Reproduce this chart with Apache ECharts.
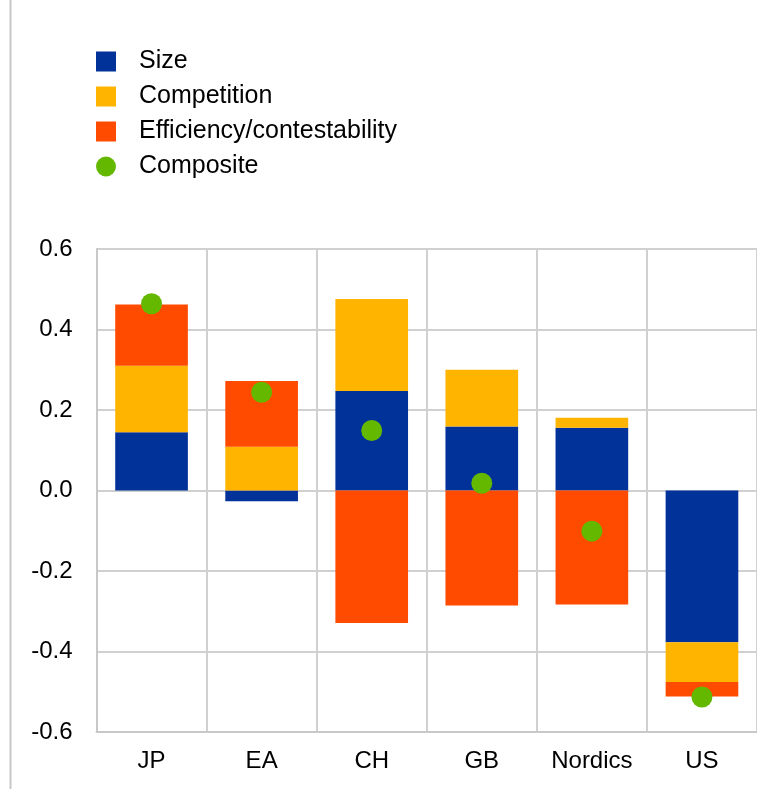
<!DOCTYPE html>
<html><head><meta charset="utf-8">
<script src="https://cdn.jsdelivr.net/npm/echarts@6/dist/echarts.min.js"></script>
<style>html,body{margin:0;padding:0;background:#fff}#c{width:757px;height:789px}</style>
</head><body><div id="c"></div>
<script>
const categories = ['JP','EA','CH','GB','Nordics','US'];
const sizeVals = [0.145, -0.027, 0.247, 0.159, 0.156, -0.377];
const competitionVals = [0.165, 0.109, 0.229, 0.141, 0.025, -0.099];
const efficiencyVals = [0.152, 0.163, -0.329, -0.286, -0.283, -0.036];
const compositeVals = [0.464, 0.244, 0.149, 0.018, -0.101, -0.513];
const yTicks = [-0.6, -0.4, -0.2, 0.0, 0.2, 0.4, 0.6];

const chart = echarts.init(document.getElementById('c'));
const font = 'Liberation Sans, Arial, sans-serif';
chart.setOption({
  animation: false,
  graphic: [{type:'line', shape:{x1:10.5,y1:0,x2:10.5,y2:789}, style:{stroke:'#c8c8c8', lineWidth:2}}],
  legend: {
    orient: 'vertical', left: 91, top: 44, itemWidth: 20, itemHeight: 20, itemGap: 10,
    textStyle: {fontFamily: font, fontSize: 25, color: '#000', padding: [0,0,0,18]},
    data: [
      {name:'Size', icon:'rect'},
      {name:'Competition', icon:'rect'},
      {name:'Efficiency/contestability', icon:'rect'},
      {name:'Composite', icon:'circle'}
    ]
  },
  grid: {left: 96.5, right: -4.5, top: 249, bottom: 57},
  xAxis: {
    type: 'category', data: categories, position: 'bottom',
    axisLine: {show: true, onZero: false, lineStyle: {color: '#c8c8c8', width: 2}},
    axisTick: {show: false},
    splitLine: {show: true, lineStyle: {color: '#d0d0d0', width: 2}},
    axisLabel: {fontFamily: font, fontSize: 24, color: '#000', margin: 17}
  },
  yAxis: {
    type: 'value', min: -0.6, max: 0.6, interval: 0.2,
    axisLine: {show: true, lineStyle: {color: '#c8c8c8', width: 2}},
    axisTick: {show: false},
    splitLine: {show: true, lineStyle: {color: '#d0d0d0', width: 2}},
    axisLabel: {fontFamily: font, fontSize: 24, color: '#000', margin: 24,
      formatter: v => { const t = yTicks.find(x => Math.abs(x - v) < 1e-9); return (t !== undefined ? t : v).toFixed(1); }}
  },
  series: [
    {name:'Size', type:'bar', stack:'a', data:sizeVals, barWidth:'66%', itemStyle:{color:'#003299'}},
    {name:'Competition', type:'bar', stack:'a', data:competitionVals, itemStyle:{color:'#FFB400'}},
    {name:'Efficiency/contestability', type:'bar', stack:'a', data:efficiencyVals, itemStyle:{color:'#FF4B00'}},
    {name:'Composite', type:'scatter', data:compositeVals, symbolSize:21, z:5, itemStyle:{color:'#65B800', opacity:1}}
  ]
});
</script></body></html>
